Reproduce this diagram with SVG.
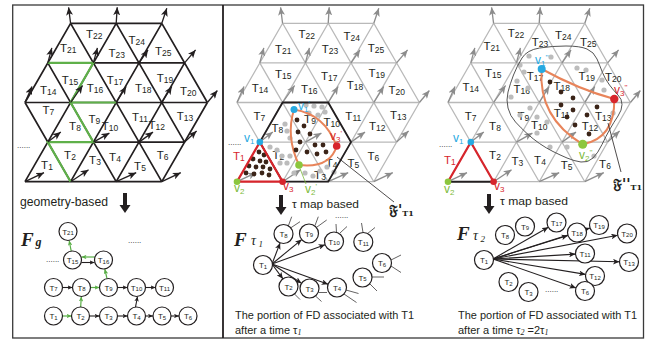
<svg xmlns="http://www.w3.org/2000/svg" width="661" height="346" viewBox="0 0 661 346">
<style>
text{font-family:"Liberation Sans",Arial,sans-serif;fill:#231f20}
.tl text{font-size:11.5px;text-anchor:middle}
.tl tspan{font-size:8.5px}
.nd circle{fill:#fff;stroke:#231f20;stroke-width:1.2}
.nd text{font-size:8px;text-anchor:middle}
.nd tspan{font-size:6px}
.gd circle{fill:#bcbcbc}
.dk circle{fill:#3b2418}
.ek{stroke:#231f20;stroke-width:1.1;fill:none;marker-end:url(#sK)}
.eg{stroke:#58ad45;stroke-width:1.2;fill:none;marker-end:url(#sG)}
.fan line{stroke:#231f20;stroke-width:1.1;marker-end:url(#nK)}
.stub line{stroke:#231f20;stroke-width:0.7}
.cap{font-size:11px}
.F{font-family:"Liberation Serif",serif;font-weight:bold;font-style:italic}
.ti{font-family:"Liberation Serif",serif;font-style:italic}
.dots{font-size:8px}
.vl{font-size:12px}
.vl tspan{font-size:8px}
.frak{font-family:"DejaVu Serif","DejaVu Sans",serif;font-weight:bold}
text.cb{fill:#27a9e1}
text.cr{fill:#d7252c}
text.cg{fill:#7dbb3c}
circle.b{fill:#27a9e1}
circle.r{fill:#d7252c}
circle.g{fill:#8cc63e}
.orange{fill:none;stroke:#e8845a;stroke-width:2}
</style>
<defs>
<marker id="vK" viewBox="0 0 8 7" refX="8" refY="3.5" markerWidth="8" markerHeight="7" markerUnits="userSpaceOnUse" orient="auto"><path d="M0,0L8,3.5L0,7L2,3.5z" fill="#231f20"/></marker>
<marker id="vG" viewBox="0 0 8 7" refX="8" refY="3.5" markerWidth="8" markerHeight="7" markerUnits="userSpaceOnUse" orient="auto"><path d="M0,0L8,3.5L0,7L2,3.5z" fill="#8c8c8c"/></marker>
<marker id="sK" viewBox="0 0 8 7" refX="8" refY="3.5" markerWidth="5" markerHeight="4.4" markerUnits="userSpaceOnUse" orient="auto"><path d="M0,0L8,3.5L0,7L2,3.5z" fill="#231f20"/></marker>
<marker id="sG" viewBox="0 0 8 7" refX="8" refY="3.5" markerWidth="5" markerHeight="4.4" markerUnits="userSpaceOnUse" orient="auto"><path d="M0,0L8,3.5L0,7L2,3.5z" fill="#58ad45"/></marker>
<marker id="nK" viewBox="0 0 8 7" refX="8" refY="3.5" markerWidth="6.5" markerHeight="5.7" markerUnits="userSpaceOnUse" orient="auto"><path d="M0,0L8,3.5L0,7L2,3.5z" fill="#231f20"/></marker>
<g id="grid" fill="none">
<path d="M25 181.7H161.8M47.8 142.1H184.6M25 102.5H207.4M47.8 62.9H184.6M70.6 23.3H161.8M25 181.7L116.2 23.3M70.6 181.7L161.8 23.3M116.2 181.7L184.6 62.9M161.8 181.7L207.4 102.5M25 102.5L70.6 23.3M25 102.5L70.6 181.7M116.2 181.7L47.8 62.9M161.8 181.7L70.6 23.3M184.6 142.1L116.2 23.3M207.4 102.5L161.8 23.3"/>
</g>
<g id="vf" fill="none">
<line x1="70.6" y1="23.3" x2="68.6" y2="7.3"/>
<line x1="116.2" y1="23.3" x2="117.2" y2="7.3"/>
<line x1="161.8" y1="23.3" x2="166.8" y2="8.3"/>
<line x1="47.8" y1="62.9" x2="51.8" y2="47.9"/>
<line x1="93.4" y1="62.9" x2="97.4" y2="47.9"/>
<line x1="139" y1="62.9" x2="148" y2="49.9"/>
<line x1="184.6" y1="62.9" x2="195.6" y2="49.9"/>
<line x1="25" y1="102.5" x2="32" y2="86.5"/>
<line x1="70.6" y1="102.5" x2="82.6" y2="85.5"/>
<line x1="116.2" y1="102.5" x2="126.2" y2="86.5"/>
<line x1="161.8" y1="102.5" x2="171.8" y2="86.5"/>
<line x1="207.4" y1="102.5" x2="217.4" y2="90.5"/>
<line x1="47.8" y1="142.1" x2="60.8" y2="132.1"/>
<line x1="93.4" y1="142.1" x2="109.4" y2="133.1"/>
<line x1="139" y1="142.1" x2="153" y2="132.1"/>
<line x1="184.6" y1="142.1" x2="196.6" y2="131.1"/>
<line x1="25" y1="181.7" x2="44" y2="172.7"/>
<line x1="70.6" y1="181.7" x2="88.6" y2="169.7"/>
<line x1="116.2" y1="181.7" x2="136.2" y2="172.7"/>
<line x1="161.8" y1="181.7" x2="180.8" y2="172.7"/>
</g>
</defs>

<g id="frame" fill="none">
<rect x="12.7" y="5" width="630.8" height="333" stroke="#3a3a3a" stroke-width="1.3"/>
<line x1="223" y1="5" x2="223" y2="338" stroke="#231f20" stroke-width="1.8"/>
</g>

<!-- Panel 1 -->
<g id="panel1-grid">
<use href="#grid" stroke="#231f20" stroke-width="1.7"/>
<path d="M47.8 62.9H93.4L70.6 102.5H116.2M70.6 102.5L93.4 142.1H47.8L70.6 181.7" fill="none" stroke="#5fb04a" stroke-width="2.2"/>
<use href="#vf" stroke="#231f20" stroke-width="1.3" marker-end="url(#vK)"/>
<text class="dots" x="17" y="148">......</text>
</g>
<g id="panel1-labels" class="tl">
<text x="68.3" y="51.8">T<tspan dy="1">21</tspan></text>
<text x="94.3" y="37.8">T<tspan dy="1">22</tspan></text>
<text x="116.7" y="56.8">T<tspan dy="1">23</tspan></text>
<text x="136.7" y="43.5">T<tspan dy="1">24</tspan></text>
<text x="163.3" y="55.2">T<tspan dy="1">25</tspan></text>
<text x="48.3" y="93.5">T<tspan dy="1">14</tspan></text>
<text x="70" y="83.5">T<tspan dy="1">15</tspan></text>
<text x="95" y="91.8">T<tspan dy="1">16</tspan></text>
<text x="115" y="83.5">T<tspan dy="1">17</tspan></text>
<text x="143.3" y="91.8">T<tspan dy="1">18</tspan></text>
<text x="165" y="81.8">T<tspan dy="1">19</tspan></text>
<text x="188.3" y="95.2">T<tspan dy="1">20</tspan></text>
<text x="48.3" y="113.5">T<tspan dy="1">7</tspan></text>
<text x="75" y="130.2">T<tspan dy="1">8</tspan></text>
<text x="94.3" y="122.5">T<tspan dy="1">9</tspan></text>
<text x="110" y="130.2">T<tspan dy="1">10</tspan></text>
<text x="140" y="120.8">T<tspan dy="1">11</tspan></text>
<text x="156.7" y="128.5">T<tspan dy="1">12</tspan></text>
<text x="185" y="120.2">T<tspan dy="1">13</tspan></text>
<text x="47" y="168.5">T<tspan dy="1">1</tspan></text>
<text x="70" y="158.5">T<tspan dy="1">2</tspan></text>
<text x="95" y="163.5">T<tspan dy="1">3</tspan></text>
<text x="115" y="160.8">T<tspan dy="1">4</tspan></text>
<text x="140" y="170.2">T<tspan dy="1">5</tspan></text>
<text x="162.7" y="158.5">T<tspan dy="1">6</tspan></text>
</g>
<g id="panel1-caption">
<text x="20" y="206" font-size="12" textLength="88" lengthAdjust="spacingAndGlyphs">geometry-based</text>
<path d="M123,193H127V205H130.5L125,213L119.5,205H123Z" fill="#231f20"/>
<text class="F" x="21" y="246" font-size="19">F</text><text class="F" x="35.5" y="246" font-size="12">g</text>
<text class="dots" x="46" y="262">......</text>
<text class="dots" x="128" y="243">......</text>
</g>
<g id="panel1-connectors">
<line class="eg" x1="62.5" y1="316" x2="71.5" y2="316"/>
<line class="ek" x1="89.5" y1="316" x2="99.5" y2="316"/>
<line class="ek" x1="117.5" y1="316" x2="127.5" y2="316"/>
<line class="ek" x1="145.5" y1="316" x2="153" y2="316"/>
<line class="ek" x1="171" y1="316" x2="179" y2="316"/>
<line class="ek" x1="62.5" y1="287.5" x2="72.5" y2="287.5"/>
<line class="eg" x1="90.5" y1="287.5" x2="99.5" y2="287.5"/>
<line class="ek" x1="117.5" y1="287.5" x2="127.5" y2="287.5"/>
<line class="ek" x1="145.5" y1="287.5" x2="155.5" y2="287.5"/>
<line class="eg" x1="80.7" y1="307" x2="81.3" y2="296.5"/>
<line class="ek" x1="135.5" y1="307" x2="137.5" y2="296.5"/>
<line class="eg" x1="107" y1="278.7" x2="104.8" y2="269"/>
<line class="eg" x1="94.7" y1="257" x2="81.5" y2="257"/>
<line class="ek" x1="81.3" y1="262.5" x2="94.5" y2="262.5"/>
<line class="eg" x1="71.2" y1="251.1" x2="69.2" y2="240.5"/>
</g>
<g id="p1-T21" class="nd"><circle cx="68" cy="231.5" r="9"/><text x="68" y="234.5">T<tspan dy="0.8">21</tspan></text></g>
<g id="p1-T15" class="nd"><circle cx="72.5" cy="260" r="9"/><text x="72.5" y="263">T<tspan dy="0.8">15</tspan></text></g>
<g id="p1-T16" class="nd"><circle cx="103.5" cy="260" r="9"/><text x="103.5" y="263">T<tspan dy="0.8">16</tspan></text></g>
<g id="p1-T7" class="nd"><circle cx="53.5" cy="287.5" r="9"/><text x="53.5" y="290.5">T<tspan dy="0.8">7</tspan></text></g>
<g id="p1-T8" class="nd"><circle cx="81.5" cy="287.5" r="9"/><text x="81.5" y="290.5">T<tspan dy="0.8">8</tspan></text></g>
<g id="p1-T9" class="nd"><circle cx="108.5" cy="287.5" r="9"/><text x="108.5" y="290.5">T<tspan dy="0.8">9</tspan></text></g>
<g id="p1-T10" class="nd"><circle cx="136.5" cy="287.5" r="9"/><text x="136.5" y="290.5">T<tspan dy="0.8">10</tspan></text></g>
<g id="p1-T11" class="nd"><circle cx="164.5" cy="287.5" r="9"/><text x="164.5" y="290.5">T<tspan dy="0.8">11</tspan></text></g>
<g id="p1-T1" class="nd"><circle cx="53.5" cy="316" r="9"/><text x="53.5" y="319">T<tspan dy="0.8">1</tspan></text></g>
<g id="p1-T2" class="nd"><circle cx="80.5" cy="316" r="9"/><text x="80.5" y="319">T<tspan dy="0.8">2</tspan></text></g>
<g id="p1-T3" class="nd"><circle cx="108.5" cy="316" r="9"/><text x="108.5" y="319">T<tspan dy="0.8">3</tspan></text></g>
<g id="p1-T4" class="nd"><circle cx="136.5" cy="316" r="9"/><text x="136.5" y="319">T<tspan dy="0.8">4</tspan></text></g>
<g id="p1-T5" class="nd"><circle cx="162" cy="316" r="9"/><text x="162" y="319">T<tspan dy="0.8">5</tspan></text></g>
<g id="p1-T6" class="nd"><circle cx="188" cy="316" r="9"/><text x="188" y="319">T<tspan dy="0.8">6</tspan></text></g>

<!-- Panel 2 -->
<g id="panel2-grid">
<use href="#grid" x="212" stroke="#b9b9b9" stroke-width="1.3"/>
<use href="#vf" x="212" stroke="#8c8c8c" stroke-width="1.3" marker-end="url(#vG)"/>
<text class="dots" x="228" y="145">......</text>
</g>
<g id="panel2-labels" class="tl">
<text x="283.3" y="52.8">T<tspan dy="1">21</tspan></text>
<text x="306.7" y="37.8">T<tspan dy="1">22</tspan></text>
<text x="330" y="52.8">T<tspan dy="1">23</tspan></text>
<text x="351.7" y="39.5">T<tspan dy="1">24</tspan></text>
<text x="376" y="51.8">T<tspan dy="1">25</tspan></text>
<text x="260" y="91.8">T<tspan dy="1">14</tspan></text>
<text x="283.3" y="77.5">T<tspan dy="1">15</tspan></text>
<text x="309.3" y="92.8">T<tspan dy="1">16</tspan></text>
<text x="329.3" y="79.5">T<tspan dy="1">17</tspan></text>
<text x="355" y="88.5">T<tspan dy="1">18</tspan></text>
<text x="376.7" y="76.8">T<tspan dy="1">19</tspan></text>
<text x="396.7" y="93.5">T<tspan dy="1">20</tspan></text>
<text x="259.3" y="120.2">T<tspan dy="1">7</tspan></text>
<text x="277.3" y="131.8">T<tspan dy="1">8</tspan></text>
<text x="310" y="122.8">T<tspan dy="1">9</tspan></text>
<text x="331.7" y="126.2">T<tspan dy="1">10</tspan></text>
<text x="353.3" y="119.5">T<tspan dy="1">11</tspan></text>
<text x="377.3" y="130.2">T<tspan dy="1">12</tspan></text>
<text x="398.3" y="118.5">T<tspan dy="1">13</tspan></text>
<text x="278.3" y="158.5">T<tspan dy="1">2</tspan></text>
<text x="320" y="178.5">T<tspan dy="1">3</tspan></text>
<text x="331.7" y="166.8">T<tspan dy="1">4</tspan></text>
<text x="353.3" y="166.8">T<tspan dy="1">5</tspan></text>
<text x="373.3" y="159.5">T<tspan dy="1">6</tspan></text>
</g>
<g id="panel2-gray" class="gd">
<circle cx="306" cy="105" r="2.6"/><circle cx="314" cy="106" r="2.6"/><circle cx="322" cy="107" r="2.6"/>
<circle cx="309" cy="113" r="2.6"/><circle cx="318" cy="115" r="2.6"/><circle cx="325" cy="112" r="2.6"/>
<circle cx="285" cy="124" r="2.6"/><circle cx="287" cy="131" r="2.6"/><circle cx="290" cy="138" r="2.6"/>
<circle cx="270" cy="147" r="2.6"/><circle cx="277" cy="150" r="2.6"/><circle cx="282" cy="156" r="2.6"/>
<circle cx="290" cy="156" r="2.6"/><circle cx="280" cy="163" r="2.6"/><circle cx="287" cy="163" r="2.6"/>
<circle cx="294" cy="173" r="2.6"/><circle cx="305" cy="173" r="2.6"/><circle cx="313" cy="176" r="2.6"/>
<circle cx="320" cy="171" r="2.6"/><circle cx="327" cy="167" r="2.6"/><circle cx="334" cy="172" r="2.6"/>
</g>
<g id="panel2-hexagon">
<polygon points="259.8,142.1 282.6,102.5 328.2,102.5 351,142.1 328.2,181.7 282.6,181.7" fill="none" stroke="#231f20" stroke-width="1.8"/>
</g>
<g id="panel2-region">
<path class="orange" d="M294,109.5Q324.6,114.2 336.7,146Q330.1,168.5 299,165Q285.5,136.7 294,109.5Z"/>
</g>
<g id="panel2-dark" class="dk">
<circle cx="297" cy="120" r="2.4"/><circle cx="304" cy="126" r="2.4"/><circle cx="298" cy="132" r="2.4"/>
<circle cx="310" cy="134" r="2.4"/><circle cx="300" cy="142" r="2.4"/><circle cx="315" cy="145" r="2.4"/>
<circle cx="323" cy="145" r="2.4"/><circle cx="307" cy="152" r="2.4"/><circle cx="317" cy="154" r="2.4"/>
<circle cx="326" cy="152" r="2.4"/><circle cx="296" cy="150" r="2.4"/>
<circle cx="259" cy="152" r="2.4"/><circle cx="264" cy="155" r="2.4"/><circle cx="253" cy="159" r="2.4"/>
<circle cx="260" cy="161" r="2.4"/><circle cx="266" cy="162" r="2.4"/><circle cx="249" cy="166" r="2.4"/>
<circle cx="256" cy="167" r="2.4"/><circle cx="263" cy="167" r="2.4"/><circle cx="270" cy="169" r="2.4"/>
<circle cx="246" cy="173" r="2.4"/><circle cx="254" cy="174" r="2.4"/><circle cx="262" cy="173" r="2.4"/>
<circle cx="269" cy="175" r="2.4"/>
</g>
<g id="panel2-T1">
<polygon points="237,181.7 282.6,181.7 259.8,142.1" fill="none" stroke="#d7252c" stroke-width="2.2"/>
<circle class="b" cx="259.8" cy="142.1" r="3.3"/>
<circle class="g" cx="237" cy="181.7" r="3.3"/>
<circle class="r" cx="282.6" cy="181.7" r="3.3"/>
<circle class="b" cx="294" cy="109.5" r="3.5"/>
<circle class="r" cx="336.7" cy="146" r="3.8"/>
<circle class="g" cx="299" cy="165" r="3.8"/>
<line x1="300" y1="168.5" x2="306" y2="184" stroke="#7dbb3c" stroke-width="0.8"/>
<text class="vl cb" x="244" y="142">v<tspan dy="2">1</tspan></text>
<text class="cr" x="233" y="160" font-size="11.5">T<tspan dy="1" font-size="8.5">1</tspan></text>
<text class="vl cg" x="234" y="192">v<tspan dy="2">2</tspan></text>
<text class="vl cr" x="283" y="190">v<tspan dy="2">3</tspan></text>
<text class="vl cg" x="305" y="193">v<tspan dy="2">2</tspan><tspan dy="-6">'</tspan></text>
<text class="vl cb" x="298" y="110">v<tspan dy="2">1</tspan><tspan dy="-6">'</tspan></text>
<text class="vl cr" x="330" y="140">v<tspan dy="2">3</tspan><tspan dy="-6">'</tspan></text>
<line x1="337" y1="157" x2="394" y2="202" stroke="#231f20" stroke-width="0.8"/>
<text class="frak" x="389" y="215" font-size="14">𝔉'<tspan font-size="8" dy="1">T1</tspan></text>
</g>
<g id="panel2-caption">
<path d="M279,195H283V207H286.5L281,215L275.5,207H279Z" fill="#231f20"/>
<text x="292" y="207.5" font-size="11.5" textLength="67" lengthAdjust="spacingAndGlyphs">τ map based</text>
<text class="dots" x="335" y="218">......</text>
<text class="F" x="234" y="246" font-size="19">F</text><text class="ti" x="251" y="245" font-size="14">τ</text><text class="ti" x="258.5" y="247" font-size="9">1</text>
<text class="cap" x="235" y="318.5" textLength="179" lengthAdjust="spacingAndGlyphs">The portion of FD associated with T1</text>
<text class="cap" x="235" y="334">after a time τ<tspan font-size="8" dy="1" class="ti">1</tspan></text>
</g>
<g id="panel2-connectors">
<g class="fan">
<line x1="272" y1="264" x2="280.1" y2="242.9"/>
<line x1="272" y1="264" x2="301.7" y2="239.6"/>
<line x1="272" y1="264" x2="325.1" y2="244.7"/>
<line x1="272" y1="264" x2="282.9" y2="278.8"/>
<line x1="272" y1="264" x2="301.5" y2="283.3"/>
<line x1="272" y1="264" x2="328.1" y2="284.3"/>
</g>
<g class="stub">
<line x1="288.3" y1="226" x2="291.7" y2="216.7"/>
<line x1="290.5" y1="228" x2="300" y2="221.7"/>
<line x1="315" y1="225.5" x2="318.3" y2="216.7"/>
<line x1="317" y1="227" x2="326.7" y2="220"/>
<line x1="336.5" y1="232.5" x2="336" y2="224"/>
<line x1="340" y1="233" x2="347" y2="226.5"/>
<line x1="363" y1="232.5" x2="361.5" y2="223"/>
<line x1="367" y1="234" x2="375" y2="227.5"/>
<line x1="391" y1="260" x2="401" y2="255"/>
<line x1="391" y1="266" x2="401" y2="272.5"/>
<line x1="372" y1="277" x2="384" y2="277"/>
<line x1="369" y1="283" x2="377" y2="291"/>
<line x1="346" y1="290" x2="358.5" y2="293.5"/>
<line x1="344" y1="294" x2="356.5" y2="302.5"/>
<line x1="318.5" y1="292.5" x2="327" y2="292.5"/>
<line x1="315.5" y1="296" x2="321.5" y2="301.5"/>
<line x1="294" y1="293.5" x2="300" y2="299.5"/>
</g>
</g>
<g id="p2-T1" class="nd"><circle cx="263" cy="265" r="9.5"/><text x="263" y="268">T<tspan dy="0.8">1</tspan></text></g>
<g id="p2-T8" class="nd"><circle cx="283.5" cy="234" r="9.5"/><text x="283.5" y="237">T<tspan dy="0.8">8</tspan></text></g>
<g id="p2-T9" class="nd"><circle cx="309" cy="233.5" r="9.5"/><text x="309" y="236.5">T<tspan dy="0.8">9</tspan></text></g>
<g id="p2-T10" class="nd"><circle cx="334" cy="241.5" r="9.5"/><text x="334" y="244.5">T<tspan dy="0.8">10</tspan></text></g>
<g id="p2-T11" class="nd"><circle cx="363.3" cy="242" r="9.5"/><text x="363.3" y="245">T<tspan dy="0.8">11</tspan></text></g>
<g id="p2-T6" class="nd"><circle cx="382" cy="263" r="9.5"/><text x="382" y="266">T<tspan dy="0.8">6</tspan></text></g>
<g id="p2-T5" class="nd"><circle cx="362.5" cy="277.5" r="9.5"/><text x="362.5" y="280.5">T<tspan dy="0.8">5</tspan></text></g>
<g id="p2-T4" class="nd"><circle cx="337" cy="287.5" r="9.5"/><text x="337" y="290.5">T<tspan dy="0.8">4</tspan></text></g>
<g id="p2-T3" class="nd"><circle cx="309.5" cy="288.5" r="9.5"/><text x="309.5" y="291.5">T<tspan dy="0.8">3</tspan></text></g>
<g id="p2-T2" class="nd"><circle cx="288.5" cy="286.5" r="9.5"/><text x="288.5" y="289.5">T<tspan dy="0.8">2</tspan></text></g>

<!-- Panel 3 -->
<g id="panel3-grid">
<use href="#grid" x="423" stroke="#b9b9b9" stroke-width="1.3"/>
<use href="#vf" x="423" stroke="#8c8c8c" stroke-width="1.3" marker-end="url(#vG)"/>
<text class="dots" x="439" y="147">......</text>
</g>
<g id="panel3-labels" class="tl">
<text x="491.7" y="50.2">T<tspan dy="1">21</tspan></text>
<text x="516" y="36.8">T<tspan dy="1">22</tspan></text>
<text x="540" y="46.2">T<tspan dy="1">23</tspan></text>
<text x="563.3" y="38.5">T<tspan dy="1">24</tspan></text>
<text x="588.3" y="46.2">T<tspan dy="1">25</tspan></text>
<text x="470.7" y="90.8">T<tspan dy="1">14</tspan></text>
<text x="493.3" y="76.8">T<tspan dy="1">15</tspan></text>
<text x="521.7" y="92.8">T<tspan dy="1">16</tspan></text>
<text x="535" y="79.5">T<tspan dy="1">17</tspan></text>
<text x="561.7" y="89.5">T<tspan dy="1">18</tspan></text>
<text x="586.7" y="79.5">T<tspan dy="1">19</tspan></text>
<text x="613.3" y="80.8">T<tspan dy="1">20</tspan></text>
<text x="470.7" y="119.5">T<tspan dy="1">7</tspan></text>
<text x="495" y="129.5">T<tspan dy="1">8</tspan></text>
<text x="523.3" y="119.5">T<tspan dy="1">9</tspan></text>
<text x="539.3" y="128.5">T<tspan dy="1">10</tspan></text>
<text x="561.7" y="116.8">T<tspan dy="1">11</tspan></text>
<text x="590" y="130.2">T<tspan dy="1">12</tspan></text>
<text x="603.3" y="120.2">T<tspan dy="1">13</tspan></text>
<text x="495" y="158.5">T<tspan dy="1">2</tspan></text>
<text x="517.3" y="165.2">T<tspan dy="1">3</tspan></text>
<text x="540" y="163.5">T<tspan dy="1">4</tspan></text>
<text x="566.7" y="168.5">T<tspan dy="1">5</tspan></text>
<text x="605" y="167.5">T<tspan dy="1">6</tspan></text>
</g>
<g id="panel3-gray" class="gd">
<circle cx="529" cy="56" r="2.6"/><circle cx="551" cy="57" r="2.6"/><circle cx="520" cy="65" r="2.6"/>
<circle cx="524" cy="72" r="2.6"/><circle cx="517" cy="81" r="2.6"/><circle cx="528" cy="88" r="2.6"/>
<circle cx="511" cy="97" r="2.6"/><circle cx="530" cy="108" r="2.6"/><circle cx="520" cy="115" r="2.6"/>
<circle cx="537" cy="117" r="2.6"/><circle cx="547" cy="122" r="2.6"/><circle cx="537" cy="133" r="2.6"/>
<circle cx="550" cy="147" r="2.6"/><circle cx="577" cy="68" r="2.6"/><circle cx="586" cy="70" r="2.6"/>
<circle cx="602" cy="80" r="2.6"/><circle cx="604" cy="90" r="2.6"/><circle cx="613" cy="113" r="2.6"/>
<circle cx="594" cy="156" r="2.6"/><circle cx="567" cy="147" r="2.6"/>
</g>
<g id="panel3-blob">
<path d="M522,58Q527,50 539.5,48Q552,46 566,46Q580,46 587,49Q594,52 597,59Q600,66 602.5,72.5Q605,79 609.5,85Q614,91 618,95Q622,99 622,104.5Q622,110 618,116Q614,122 610,129Q606,136 602,144.5Q598,153 593,158Q588,163 581,162Q574,161 567,158Q560,155 553,151.5Q546,148 539.5,143.5Q533,139 527,133.5Q521,128 515.5,122Q510,116 508,108Q506,100 508,92Q510,84 513.5,75Q517,66 522,58Z" fill="none" stroke="#555" stroke-width="1"/>
</g>
<g id="panel3-region">
<path class="orange" d="M541.7,69Q578.6,89.4 614.3,99Q614.9,138.3 582.7,144.3Q537.8,117.3 541.7,69Z"/>
</g>
<g id="panel3-dark" class="dk">
<circle cx="550" cy="82" r="2.4"/><circle cx="561" cy="92" r="2.4"/><circle cx="573" cy="98" r="2.4"/>
<circle cx="561" cy="105" r="2.4"/><circle cx="573" cy="110" r="2.4"/><circle cx="597" cy="107" r="2.4"/>
<circle cx="567" cy="117" r="2.4"/><circle cx="587" cy="115" r="2.4"/><circle cx="575" cy="125" r="2.4"/>
<circle cx="589" cy="134" r="2.4"/>
</g>
<g id="panel3-T1">
<polyline points="448,181.7 470.8,142.1 493.6,181.7" fill="none" stroke="#d7252c" stroke-width="2.2"/>
<line x1="448" y1="181.7" x2="493.6" y2="181.7" stroke="#231f20" stroke-width="2"/>
<circle class="b" cx="470.8" cy="142.1" r="3.3"/>
<circle class="g" cx="448" cy="181.7" r="3.3"/>
<circle class="r" cx="493.6" cy="181.7" r="3.3"/>
<circle class="b" cx="541.7" cy="69" r="4"/>
<circle class="r" cx="614.3" cy="99" r="4.2"/>
<circle class="g" cx="582.7" cy="144.3" r="4.5"/>
<text class="vl cb" x="453" y="142">v<tspan dy="2">1</tspan></text>
<text class="cr" x="444" y="164" font-size="11.5">T<tspan dy="1" font-size="8.5">1</tspan></text>
<text class="vl cg" x="444" y="193">v<tspan dy="2">2</tspan></text>
<text class="vl cr" x="494" y="190">v<tspan dy="2">3</tspan></text>
<text class="vl cb" x="535" y="64">v<tspan dy="2">1</tspan><tspan dy="-6">''</tspan></text>
<text class="vl cr" x="614" y="94">v<tspan dy="2">3</tspan><tspan dy="-6">''</tspan></text>
<text class="vl cg" x="579" y="159">v<tspan dy="2">2</tspan><tspan dy="-6">''</tspan></text>
<line x1="608" y1="123" x2="621" y2="172" stroke="#231f20" stroke-width="0.8"/>
<text class="frak" x="613" y="189" font-size="14">𝔉''<tspan font-size="8" dy="1">T1</tspan></text>
</g>
<g id="panel3-caption">
<path d="M487,194H491V206H494.5L489,214L483.5,206H487Z" fill="#231f20"/>
<text x="500" y="205" font-size="11.5" textLength="68" lengthAdjust="spacingAndGlyphs">τ map based</text>
<text class="F" x="457" y="240" font-size="19">F</text><text class="ti" x="473" y="239.5" font-size="14">τ</text><text class="ti" x="480.5" y="241.5" font-size="9">2</text>
<text class="dots" x="545" y="292">......</text>
<text class="cap" x="458" y="318.5" textLength="179" lengthAdjust="spacingAndGlyphs">The portion of FD associated with T1</text>
<text class="cap" x="458" y="334">after a time τ<tspan font-size="8" dy="1" class="ti">2</tspan><tspan dy="-1"> =2τ</tspan><tspan font-size="8" dy="1" class="ti">1</tspan></text>
</g>
<g id="panel3-connectors" class="fan">
<line x1="493" y1="259" x2="548.3" y2="227.2"/>
<line x1="493" y1="259" x2="567.9" y2="235.4"/>
<line x1="493" y1="259" x2="590" y2="227.9"/>
<line x1="493" y1="259" x2="617.7" y2="235.3"/>
<line x1="493" y1="259" x2="575.5" y2="254.1"/>
<line x1="493" y1="259" x2="619.5" y2="261.8"/>
<line x1="493" y1="259" x2="585.6" y2="274.4"/>
<line x1="493" y1="259" x2="576" y2="287.9"/>
</g>
<g id="p3-T1" class="nd"><circle cx="484" cy="260" r="9.5"/><text x="484" y="263">T<tspan dy="0.8">1</tspan></text></g>
<g id="p3-T8" class="nd"><circle cx="505" cy="235" r="9.5"/><text x="505" y="238">T<tspan dy="0.8">8</tspan></text></g>
<g id="p3-T9" class="nd"><circle cx="525" cy="226.5" r="9.5"/><text x="525" y="229.5">T<tspan dy="0.8">9</tspan></text></g>
<g id="p3-T17" class="nd"><circle cx="556.5" cy="222.5" r="9.5"/><text x="556.5" y="225.5">T<tspan dy="0.8">17</tspan></text></g>
<g id="p3-T18" class="nd"><circle cx="577" cy="232.5" r="9.5"/><text x="577" y="235.5">T<tspan dy="0.8">18</tspan></text></g>
<g id="p3-T19" class="nd"><circle cx="599" cy="225" r="9.5"/><text x="599" y="228">T<tspan dy="0.8">19</tspan></text></g>
<g id="p3-T20" class="nd"><circle cx="627" cy="233.5" r="9.5"/><text x="627" y="236.5">T<tspan dy="0.8">20</tspan></text></g>
<g id="p3-T11" class="nd"><circle cx="585" cy="253.5" r="9.5"/><text x="585" y="256.5">T<tspan dy="0.8">11</tspan></text></g>
<g id="p3-T13" class="nd"><circle cx="629" cy="262" r="9.5"/><text x="629" y="265">T<tspan dy="0.8">13</tspan></text></g>
<g id="p3-T12" class="nd"><circle cx="595" cy="276" r="9.5"/><text x="595" y="279">T<tspan dy="0.8">12</tspan></text></g>
<g id="p3-T6" class="nd"><circle cx="585" cy="291" r="9.5"/><text x="585" y="294">T<tspan dy="0.8">6</tspan></text></g>
<g id="p3-T2" class="nd"><circle cx="508.5" cy="282" r="9.5"/><text x="508.5" y="285">T<tspan dy="0.8">2</tspan></text></g>
<g id="p3-T3" class="nd"><circle cx="528.5" cy="292" r="9.5"/><text x="528.5" y="295">T<tspan dy="0.8">3</tspan></text></g>
</svg>
